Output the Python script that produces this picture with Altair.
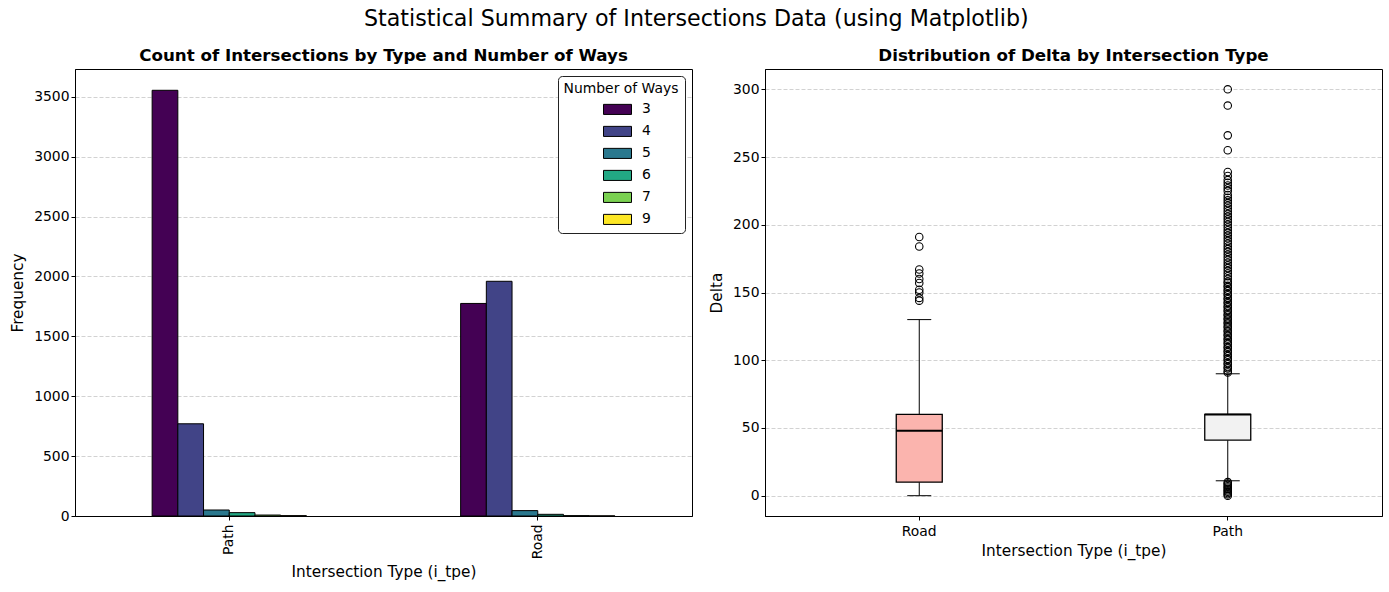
import altair as alt
import pandas as pd

# ---------------- data ----------------
left_types = ["Path", "Road"]
ways = ["3", "4", "5", "6", "7", "9"]
path_counts = [3555, 770, 50, 28, 8, 3]
road_counts = [1775, 1960, 45, 14, 3, 1]
way_colors = ["#440154", "#414487", "#2a788e", "#22a884", "#7ad151", "#fde725"]

box_types = ["Road", "Path"]
box_fill = ["#fbb4ae", "#f2f2f2"]
q1 = [10, 41]
median = [48, 60]
q3 = [60, 60]
whisker_lo = [0, 11]
whisker_hi = [130, 90]
road_outliers = [191, 184, 167, 164, 160, 157, 152, 150, 146, 144]
path_outliers = [300, 288, 266, 255, 239, 236, 233, 231, 229, 227, 225, 222, 220,
                 218, 216, 214, 212, 210, 208, 206, 204, 202, 200, 198, 196, 194,
                 192, 190, 188, 186, 184, 182, 180, 178, 176, 174, 172, 170, 168,
                 166, 164, 162, 160, 158, 157, 155, 154, 152, 151, 149, 148, 146,
                 145, 143, 142, 140, 139, 137, 136, 134, 133, 131, 130, 128, 127,
                 125, 124, 122, 121, 119, 118, 116, 115, 113, 112, 110, 109, 107,
                 106, 104, 103, 101, 100, 98, 97, 95, 94, 92, 91,
                 10, 9, 8, 7, 6, 5, 4, 3, 2, 1, 0]

FONT = "DejaVu Sans"
W, H = 617, 447
TICK_FS, AXT_FS, SUB_FS, SUP_FS = 13.9, 15.3, 16.7, 22.2

# ---------------- left: grouped bars ----------------
rows = []
for t, counts in zip(left_types, [path_counts, road_counts]):
    for w, c in zip(ways, counts):
        rows.append({"type": t, "ways": w, "count": c})
bar_df = pd.DataFrame(rows)

left = alt.Chart(bar_df).mark_bar(stroke="black", strokeWidth=1, opacity=1).encode(
    x=alt.X("type:N", sort=left_types,
            scale=alt.Scale(paddingInner=0.5, paddingOuter=0.25),
            axis=alt.Axis(title="Intersection Type (i_tpe)", labelAngle=270, grid=False,
                          labelPadding=4, titlePadding=6)),
    xOffset=alt.XOffset("ways:N", sort=ways,
                        scale=alt.Scale(paddingInner=0, paddingOuter=0)),
    y=alt.Y("count:Q", scale=alt.Scale(domain=[0, 3732.75], nice=False, zero=True),
            axis=alt.Axis(title="Frequency", values=[0, 500, 1000, 1500, 2000, 2500, 3000, 3500],
                          format="d", grid=True, titlePadding=8)),
    color=alt.Color("ways:N", sort=ways,
                    scale=alt.Scale(domain=ways, range=way_colors),
                    legend=alt.Legend(title="Number of Ways", orient="top-right",
                                      offset=7, fillColor="white", strokeColor="#222",
                                      cornerRadius=4, padding=6,
                                      symbolType="M-1,-0.36H1V0.36H-1Z", symbolSize=784,
                                      symbolStrokeColor="black", symbolStrokeWidth=1,
                                      symbolOpacity=1, symbolOffset=12, labelOffset=10,
                                      titleFontSize=TICK_FS, labelFontSize=TICK_FS,
                                      titleFontWeight="normal", titleAnchor="middle",
                                      titlePadding=-1, rowPadding=-3)),
).properties(
    width=W, height=H,
    title=alt.TitleParams("Count of Intersections by Type and Number of Ways",
                          fontSize=SUB_FS, fontWeight="bold", offset=4),
)

# ---------------- right: box plot ----------------
stats_df = pd.DataFrame({"type": box_types, "fill": box_fill, "q1": q1, "median": median,
                         "q3": q3, "lo": whisker_lo, "hi": whisker_hi})
out_df = pd.DataFrame({"type": ["Road"] * len(road_outliers) + ["Path"] * len(path_outliers),
                       "value": road_outliers + path_outliers})

xr = alt.X("type:N", sort=box_types,
           scale=alt.Scale(domain=box_types, paddingInner=0, paddingOuter=0),
           axis=alt.Axis(title="Intersection Type (i_tpe)", labelAngle=0, grid=False,
                         labelPadding=4, titlePadding=6))
yscale = alt.Scale(domain=[-15, 315], nice=False, zero=False)
yaxis = alt.Axis(title="Delta", values=[0, 50, 100, 150, 200, 250, 300], grid=True,
                 titlePadding=8)

base = alt.Chart(stats_df)
whisk_lo = base.mark_rule(color="black", strokeWidth=1).encode(
    x=xr, y=alt.Y("lo:Q", scale=yscale, axis=yaxis), y2="q1:Q")
whisk_hi = base.mark_rule(color="black", strokeWidth=1).encode(
    x=xr, y=alt.Y("q3:Q", scale=yscale, axis=yaxis), y2="hi:Q")
cap_lo = base.mark_tick(color="black", thickness=1, size=24, opacity=1).encode(
    x=xr, y=alt.Y("lo:Q", scale=yscale, axis=yaxis))
cap_hi = base.mark_tick(color="black", thickness=1, size=24, opacity=1).encode(
    x=xr, y=alt.Y("hi:Q", scale=yscale, axis=yaxis))
box = base.mark_bar(size=46, stroke="black", strokeWidth=1.3, opacity=1).encode(
    x=xr, y=alt.Y("q1:Q", scale=yscale, axis=yaxis), y2="q3:Q",
    fill=alt.Fill("fill:N", scale=None, legend=None))
med = base.mark_tick(color="black", thickness=2, size=46, opacity=1).encode(
    x=xr, y=alt.Y("median:Q", scale=yscale, axis=yaxis))
pts = alt.Chart(out_df).mark_point(shape="circle", filled=False, color="black",
                                   size=56, strokeWidth=1.1, opacity=1).encode(
    x=xr, y=alt.Y("value:Q", scale=yscale, axis=yaxis))

right = alt.layer(whisk_lo, whisk_hi, cap_lo, cap_hi, box, med, pts).properties(
    width=W, height=H,
    title=alt.TitleParams("Distribution of Delta by Intersection Type",
                          fontSize=SUB_FS, fontWeight="bold", offset=4),
)

chart = alt.hconcat(left, right, spacing=15).resolve_scale(
    color="independent", x="independent", y="independent"
).properties(
    title=alt.TitleParams("Statistical Summary of Intersections Data (using Matplotlib)",
                          fontSize=SUP_FS, fontWeight="normal", anchor="middle", offset=18),
    padding={"left": 10, "top": 7, "right": 3, "bottom": 3},
).configure(
    font=FONT,
).configure_view(
    stroke="black", strokeWidth=1,
).configure_axis(
    labelFont=FONT, titleFont=FONT, labelFontSize=TICK_FS, titleFontSize=AXT_FS,
    titleFontWeight="normal", labelColor="black", titleColor="black",
    tickColor="black", domainColor="black", tickSize=4, domainWidth=1,
    gridColor="#c6c6c6", gridDash=[4, 2], gridWidth=0.8,
).configure_title(
    font=FONT, color="black",
).configure_legend(
    labelFont=FONT, titleFont=FONT, labelColor="black", titleColor="black",
)

chart.save("out.html", embed_options={"renderer": "svg", "actions": False})
